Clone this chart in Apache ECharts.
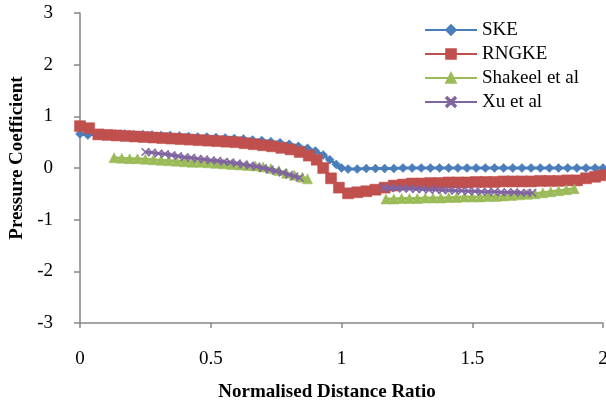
<!DOCTYPE html>
<html>
<head>
<meta charset="utf-8">
<script src="https://cdn.jsdelivr.net/npm/echarts@6/dist/echarts.min.js"></script>
<style>html,body{margin:0;padding:0;background:#fff;}#c{width:606px;height:403px;}</style>
</head>
<body>
<div id="c"></div>
<script>
// ---- data ----
var xTicks = [0, 0.5, 1, 1.5, 2];
var yTicks = [-3, -2, -1, 0, 1, 2, 3];

var skeX = [0, 0.03, 0.065, 0.1, 0.135, 0.17, 0.205, 0.24, 0.275, 0.31, 0.345, 0.38, 0.415, 0.45, 0.485, 0.52, 0.555, 0.59, 0.625, 0.66, 0.695, 0.73, 0.765, 0.8, 0.835, 0.87, 0.9, 0.93, 0.955, 0.98, 1.0, 1.025, 1.06, 1.095, 1.13, 1.165, 1.2, 1.235, 1.27, 1.305, 1.34, 1.375, 1.41, 1.445, 1.48, 1.515, 1.55, 1.585, 1.62, 1.655, 1.69, 1.725, 1.76, 1.795, 1.83, 1.865, 1.9, 1.935, 1.97, 2.0];
var skeY = [0.66, 0.64, 0.66, 0.66, 0.66, 0.66, 0.65, 0.65, 0.64, 0.63, 0.63, 0.62, 0.61, 0.6, 0.6, 0.59, 0.58, 0.57, 0.56, 0.54, 0.53, 0.51, 0.49, 0.46, 0.42, 0.38, 0.33, 0.25, 0.16, 0.07, 0.0, -0.02, -0.02, -0.01, -0.01, -0.01, -0.01, 0.0, 0.0, 0.0, 0.0, 0.0, 0.0, 0.0, 0.0, 0.0, 0.0, 0.0, 0.0, 0.0, 0.0, 0.0, 0.0, 0.0, 0.0, 0.0, 0.0, 0.0, 0.0, 0.0];

var rngX = [0, 0.035, 0.07, 0.105, 0.14, 0.175, 0.21, 0.245, 0.28, 0.315, 0.35, 0.385, 0.42, 0.455, 0.49, 0.525, 0.56, 0.595, 0.63, 0.665, 0.7, 0.735, 0.77, 0.805, 0.84, 0.875, 0.905, 0.93, 0.96, 0.99, 1.025, 1.06, 1.095, 1.13, 1.165, 1.2, 1.235, 1.27, 1.305, 1.34, 1.375, 1.41, 1.445, 1.48, 1.515, 1.55, 1.585, 1.62, 1.655, 1.69, 1.725, 1.76, 1.795, 1.83, 1.865, 1.9, 1.935, 1.97, 2.0];
var rngY = [0.81, 0.77, 0.65, 0.64, 0.63, 0.62, 0.61, 0.6, 0.59, 0.58, 0.57, 0.56, 0.55, 0.54, 0.53, 0.52, 0.51, 0.5, 0.48, 0.46, 0.44, 0.42, 0.39, 0.36, 0.31, 0.24, 0.16, 0.0, -0.2, -0.38, -0.49, -0.47, -0.45, -0.42, -0.38, -0.34, -0.32, -0.3, -0.3, -0.29, -0.29, -0.28, -0.28, -0.28, -0.27, -0.27, -0.27, -0.26, -0.26, -0.26, -0.26, -0.25, -0.25, -0.25, -0.24, -0.24, -0.2, -0.17, -0.14];

var shakeelX1 = [0.13, 0.16, 0.19, 0.22, 0.25, 0.28, 0.31, 0.34, 0.37, 0.4, 0.43, 0.46, 0.49, 0.52, 0.55, 0.58, 0.61, 0.64, 0.67, 0.7, 0.73, 0.76, 0.79, 0.82, 0.85, 0.87];
var shakeelY1 = [0.2, 0.19, 0.18, 0.18, 0.17, 0.16, 0.15, 0.14, 0.13, 0.12, 0.11, 0.11, 0.1, 0.09, 0.08, 0.07, 0.06, 0.05, 0.04, 0.02, -0.01, -0.05, -0.1, -0.14, -0.18, -0.21];
var shakeelX2 = [1.17, 1.2, 1.23, 1.26, 1.29, 1.32, 1.35, 1.38, 1.41, 1.44, 1.47, 1.5, 1.53, 1.56, 1.59, 1.62, 1.65, 1.68, 1.71, 1.74, 1.77, 1.8, 1.83, 1.86, 1.89];
var shakeelY2 = [-0.6, -0.6, -0.59, -0.59, -0.59, -0.58, -0.58, -0.58, -0.57, -0.57, -0.56, -0.56, -0.56, -0.55, -0.55, -0.54, -0.53, -0.52, -0.51, -0.5, -0.48, -0.46, -0.44, -0.42, -0.4];

var xuX1 = [0.25, 0.275, 0.3, 0.325, 0.35, 0.375, 0.4, 0.425, 0.45, 0.475, 0.5, 0.525, 0.55, 0.575, 0.6, 0.625, 0.65, 0.675, 0.7, 0.725, 0.75, 0.775, 0.8, 0.82, 0.84];
var xuY1 = [0.31, 0.3, 0.28, 0.27, 0.25, 0.23, 0.21, 0.2, 0.18, 0.17, 0.15, 0.14, 0.12, 0.11, 0.09, 0.07, 0.05, 0.03, 0.0, -0.03, -0.06, -0.09, -0.13, -0.16, -0.19];
var xuX2 = [1.16, 1.185, 1.21, 1.235, 1.26, 1.285, 1.31, 1.335, 1.36, 1.385, 1.41, 1.435, 1.46, 1.485, 1.51, 1.535, 1.56, 1.585, 1.61, 1.635, 1.66, 1.685, 1.71, 1.73];
var xuY2 = [-0.38, -0.39, -0.39, -0.4, -0.4, -0.41, -0.41, -0.42, -0.42, -0.43, -0.43, -0.44, -0.44, -0.45, -0.45, -0.46, -0.46, -0.46, -0.47, -0.47, -0.47, -0.48, -0.48, -0.48];

function pairs(xs, ys) { return xs.map(function (x, i) { return [x, ys[i]]; }); }

var COL = { ske: '#4A7EBB', rng: '#C0504D', sha: '#9BBB59', xu: '#8064A2' };
var XSYM = 'path://M0,1 L1,0 L5,4 L9,0 L10,1 L6,5 L10,9 L9,10 L5,6 L1,10 L0,9 L4,5 Z';
var FONT = '"Liberation Serif", "Times New Roman", serif';

function lineSeries(name, data, color, symbol, size, z) {
  return {
    name: name, type: 'line', data: data, symbol: symbol, symbolSize: size,
    showAllSymbol: true, z: z, animation: false, yAxisIndex: 0,
    lineStyle: { color: color, width: 3 },
    itemStyle: { color: color, borderColor: color, borderWidth: 0.5 }
  };
}

var chart = echarts.init(document.getElementById('c'), null, { renderer: 'canvas' });
chart.setOption({
  animation: false,
  backgroundColor: '#ffffff',
  grid: { left: 80, width: 523, top: 13, height: 310, containLabel: false, outerBoundsMode: 'none' },
  legend: {
    orient: 'vertical', left: 419, top: 15, itemWidth: 52, itemHeight: 12, itemGap: 4,
    textStyle: { fontFamily: FONT, fontSize: 19, color: '#000', lineHeight: 20, padding: [0, 0, 0, 0] },
    data: ['SKE', 'RNGKE', 'Shakeel et al', 'Xu et al']
  },
  xAxis: {
    type: 'value', min: xTicks[0], max: xTicks[xTicks.length - 1], interval: 0.5,
    axisLine: { onZero: false, lineStyle: { color: '#868686', width: 1.5 } },
    axisTick: { show: true, length: 5, lineStyle: { color: '#868686', width: 1.5 } },
    splitLine: { show: false },
    axisLabel: { margin: 27, fontFamily: FONT, fontSize: 19, color: '#000',
      formatter: function (v) { return xTicks.indexOf(v) >= 0 ? String(v) : ''; } }
  },
  yAxis: [{
    type: 'value', position: 'left', min: yTicks[0], max: yTicks[yTicks.length - 1], interval: 1,
    axisLine: { show: true, onZero: false, lineStyle: { color: '#868686', width: 1.5 } },
    axisTick: { show: true, length: 6, lineStyle: { color: '#868686', width: 1.5 } },
    splitLine: { show: false },
    axisLabel: { show: false }
  }, {
    type: 'value', position: 'left', offset: 27, min: yTicks[0], max: yTicks[yTicks.length - 1], interval: 1,
    axisLine: { show: false, onZero: false },
    axisTick: { show: false },
    splitLine: { show: false },
    axisLabel: { show: true, margin: 0, fontFamily: FONT, fontSize: 19, color: '#000' }
  }],
  graphic: [
    { type: 'text', x: 327, y: 392,
      style: { text: 'Normalised Distance Ratio', fontFamily: FONT, fontSize: 19, fontWeight: 'bold', fill: '#000', align: 'center', verticalAlign: 'middle' } },
    { type: 'text', x: 17, y: 158, rotation: Math.PI / 2,
      style: { text: 'Pressure Coefficient', fontFamily: FONT, fontSize: 19, fontWeight: 'bold', fill: '#000', align: 'center', verticalAlign: 'middle' } }
  ],
  series: [
    lineSeries('SKE', pairs(skeX, skeY), COL.ske, 'diamond', 9, 2),
    lineSeries('RNGKE', pairs(rngX, rngY), COL.rng, 'rect', 11, 3),
    lineSeries('Shakeel et al', pairs(shakeelX1, shakeelY1), COL.sha, 'triangle', 10, 4),
    lineSeries('Shakeel et al', pairs(shakeelX2, shakeelY2), COL.sha, 'triangle', 10, 4),
    lineSeries('Xu et al', pairs(xuX1, xuY1), COL.xu, XSYM, 8, 5),
    lineSeries('Xu et al', pairs(xuX2, xuY2), COL.xu, XSYM, 8, 5)
  ]
});
</script>
</body>
</html>
